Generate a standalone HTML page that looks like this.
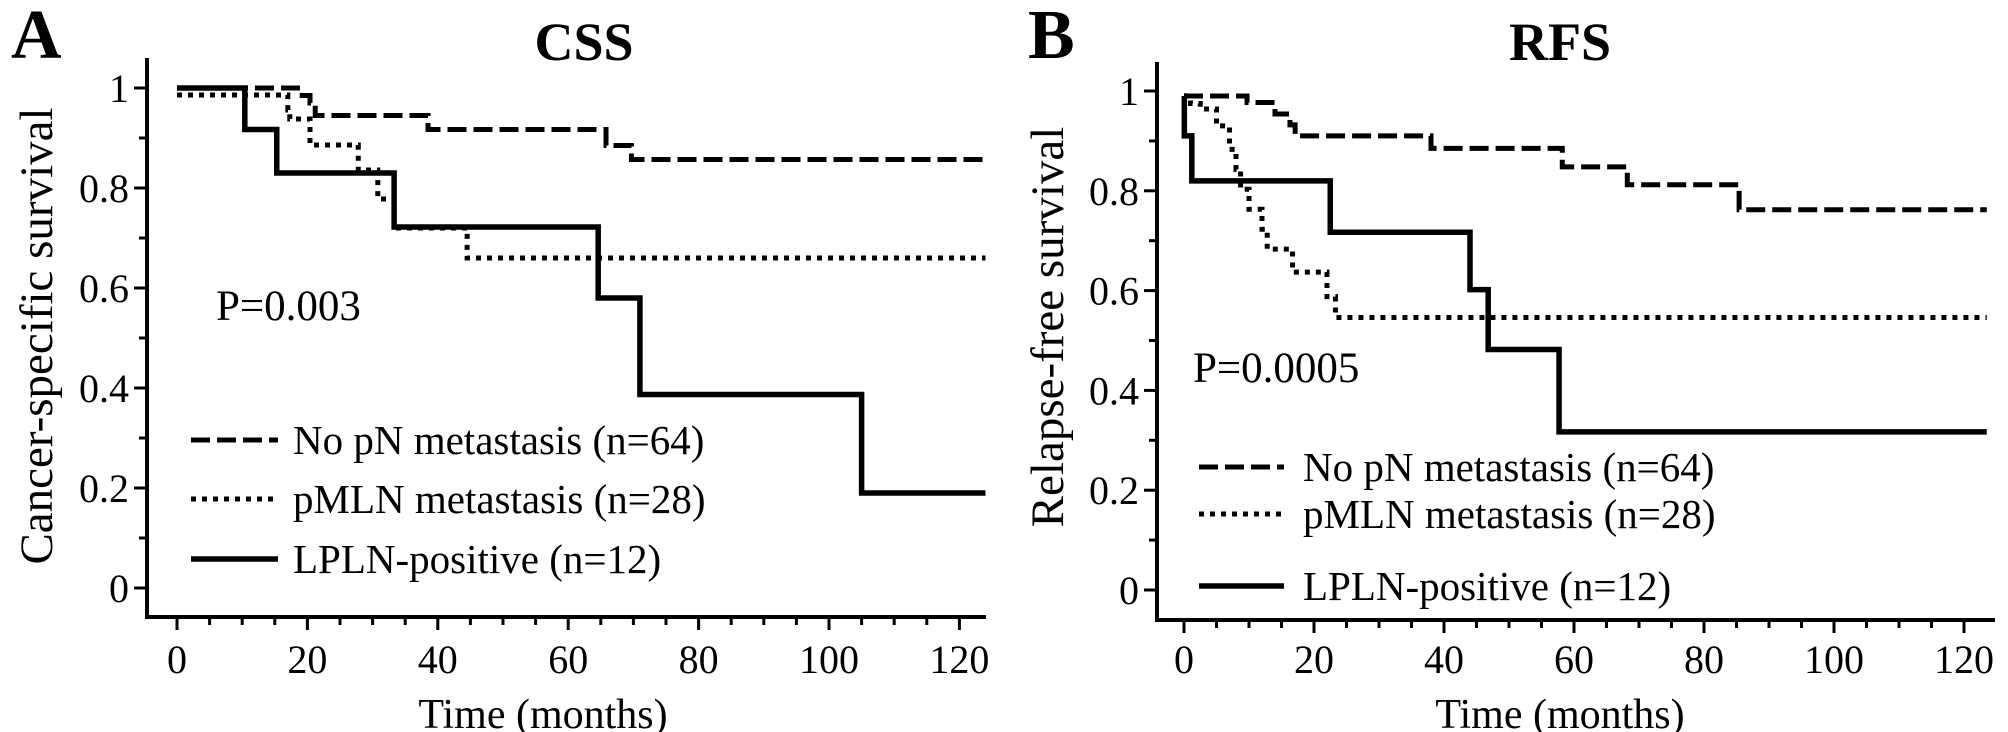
<!DOCTYPE html>
<html><head><meta charset="utf-8"><style>
html,body{margin:0;padding:0;background:#fff}
svg{display:block}
text{font-family:"Liberation Serif",serif;fill:#000}
</style></head><body>
<svg id="fig" width="2008" height="732" viewBox="0 0 2008 732"></svg>
<script>
// Panel A (CSS) data: step points [month, survival]
const cssNoPN = [[0,1.0],[19.2,0.985],[20.4,0.97],[21.2,0.945],[38.5,0.917],[65.8,0.885],[69.7,0.857],[124,0.857]];
const cssPMLN = [[0,0.986],[17,0.956],[17.3,0.938],[20.4,0.886],[27.8,0.836],[30.8,0.778],[33.3,0.72],[44.5,0.66],[124,0.66]];
const cssLPLN = [[0,1.0],[10.4,0.917],[15.3,0.83],[33.3,0.722],[64.6,0.58],[71,0.387],[105,0.19],[124,0.19]];
// Panel B (RFS) data
const rfsNoPN = [[0,0.99],[9.7,0.977],[14,0.954],[16.3,0.932],[17.1,0.91],[38,0.885],[58.2,0.848],[68.2,0.812],[85.4,0.762],[123.5,0.762]];
const rfsPMLN = [[0,0.99],[1,0.975],[2.5,0.964],[5,0.93],[7,0.883],[8,0.843],[8.7,0.803],[10,0.763],[12,0.723],[12.8,0.683],[16.7,0.637],[22,0.588],[23.3,0.546],[123.5,0.546]];
const rfsLPLN = [[0,0.99],[0.05,0.91],[1.2,0.82],[22.5,0.717],[44,0.602],[46.8,0.482],[57.7,0.317],[123.5,0.317]];
const yTickLabels = ["0","0.2","0.4","0.6","0.8","1"];
const yTickValues = [0,0.2,0.4,0.6,0.8,1];
const xTickValues = [0,20,40,60,80,100,120];
const legendLabels = ["No pN metastasis (n=64)","pMLN metastasis (n=28)","LPLN-positive (n=12)"];

const NS="http://www.w3.org/2000/svg";
const svg=document.getElementById('fig');
function mk(tag,attrs,parent){const e=document.createElementNS(NS,tag);for(const k in attrs)e.setAttribute(k,attrs[k]);(parent||svg).appendChild(e);return e;}
const styles=[{dash:"19 7",w:5},{dash:"5 6",w:5},{dash:"none",w:5.5}];

function panel(p){
  const g=mk('g',{});
  
  
  const xs=m=>p.x0+m*p.kx, ys=v=>p.y0-v*p.ky;
  const ax=mk('path',{d:`M${p.axL} ${p.axTop} V${p.axY} H${p.axR}`,fill:'none',stroke:'#000','stroke-width':4},g);
  
  
  for(let v=0;v<=10;v++){
    const y=ys(v/10), len=v%2===0?13:8;
    const t=mk('line',{x1:p.axL-len,x2:p.axL,y1:y,y2:y,stroke:'#000','stroke-width':3},g);
    
    
  }
  yTickValues.forEach((v,i)=>{
    const t=mk('text',{x:p.axL-18,y:ys(v)+14,'font-size':40,'text-anchor':'end'},g);
    t.textContent=yTickLabels[i];
    
    
  });
  for(let m=0;m<=120;m+=5){
    const x=xs(m), len=m%20===0?13:8;
    const t=mk('line',{x1:x,x2:x,y1:p.axY,y2:p.axY+len,stroke:'#000','stroke-width':3},g);
    
    
  }
  xTickValues.forEach(m=>{
    const t=mk('text',{x:xs(m),y:673,'font-size':40,'text-anchor':'middle'},g);
    t.textContent=String(m);
    
    
  });
  p.series.forEach((s,i)=>{
    let d=`M${xs(s[0][0])} ${ys(s[0][1])}`;
    for(let k=1;k<s.length;k++){d+=` H${xs(s[k][0])} V${ys(s[k][1])}`;}
    const path=mk('path',{d:d,fill:'none',stroke:'#000','stroke-width':styles[i].w,'stroke-dasharray':styles[i].dash},g);
    
    
  });
  p.legRows.forEach((ly,i)=>{
    const l=mk('line',{x1:p.legX1,x2:p.legX2,y1:ly,y2:ly,stroke:'#000','stroke-width':styles[i].w,'stroke-dasharray':styles[i].dash},g);
    
    
    const t=mk('text',{x:p.legTX,y:ly+14,'font-size':41},g);
    t.textContent=legendLabels[i];
    
    
  });
  const pt=mk('text',{x:p.pX,y:p.pY,'font-size':43},g);
  pt.textContent=p.pText;
  
  
  const xt=mk('text',{x:p.xtX,y:728,'font-size':42,'text-anchor':'middle'},g);
  xt.textContent='Time (months)';
  
  
  const yt=mk('text',{x:0,y:0,'font-size':47,'text-anchor':'middle',transform:`translate(${p.ytX},${p.ytY}) rotate(-90)`},g);
  yt.textContent=p.yTitle;
  
  
  const tt=mk('text',{x:p.ttX,y:60,'font-size':54,'font-weight':'bold','text-anchor':'middle'},g);
  tt.textContent=p.title;
  
  
  const lt=mk('text',{x:p.lX,y:58,'font-size':70,'font-weight':'bold'},g);
  lt.textContent=p.letter;
  
  
}

panel({id:'css',x0:177,kx:6.52,y0:588,ky:500,axL:147,axTop:58,axY:617,axR:986,
  series:[cssNoPN,cssPMLN,cssLPLN],legRows:[440,499,559],legX1:191,legX2:278,legTX:293,
  pX:216,pY:320,pText:'P=0.003',xtX:543,ytX:52,ytY:336,yTitle:'Cancer-specific survival',
  ttX:584,title:'CSS',lX:11,letter:'A'});
panel({id:'rfs',x0:1184,kx:6.5,y0:590,ky:499,axL:1157,axTop:62,axY:620,axR:1995,
  series:[rfsNoPN,rfsPMLN,rfsLPLN],legRows:[467,514,586],legX1:1199,legX2:1284,legTX:1303,
  pX:1193,pY:382,pText:'P=0.0005',xtX:1560,ytX:1063,ytY:327,yTitle:'Relapse-free survival',
  ttX:1560,title:'RFS',lX:1028,letter:'B'});
</script>
</body></html>
